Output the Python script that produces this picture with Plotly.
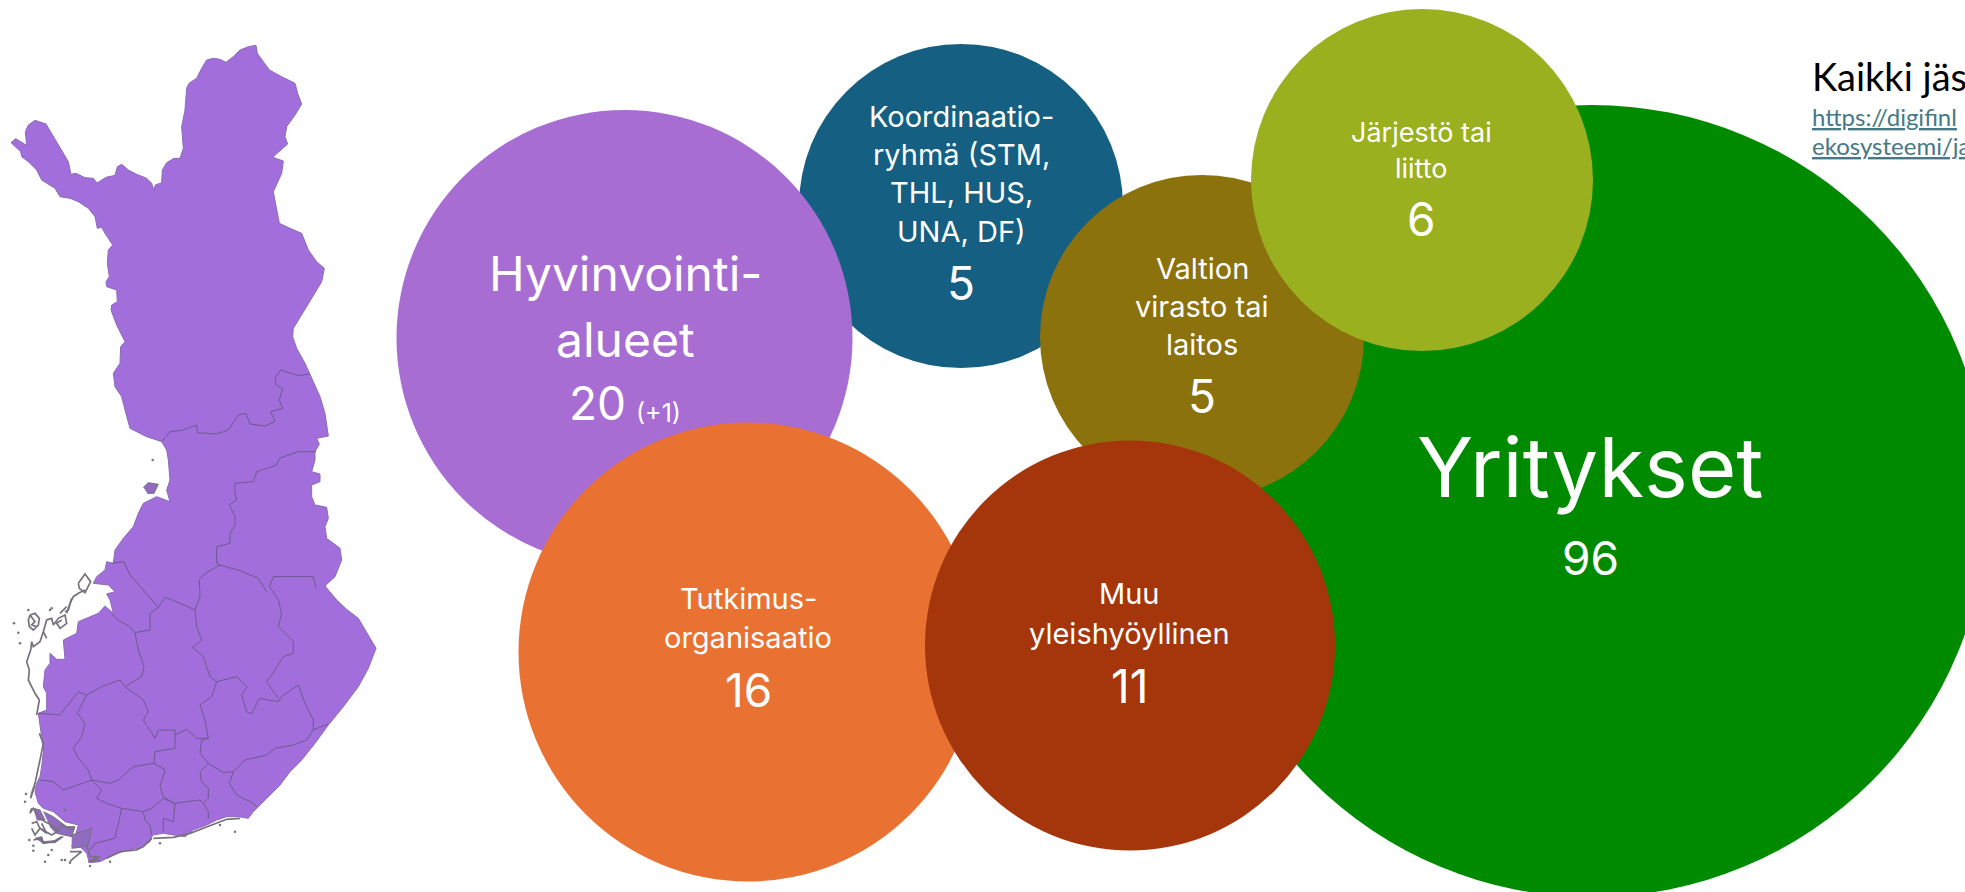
import plotly.graph_objects as go

# ---- data ----
categories = ["Yritykset", "Koordinaatioryhmä", "Hyvinvointialueet", "Valtion virasto tai laitos",
              "Järjestö tai liitto", "Tutkimusorganisaatio", "Muu yleishyöyllinen"]
member_counts = [96, 5, 20, 5, 6, 16, 11]
bubble_x = [1592, 961, 624.5, 1202, 1422, 748, 1130]
bubble_y = [501, 206, 338, 337, 180, 652, 645.5]
bubble_diameter = [792, 324, 456, 324, 342, 459, 410]
bubble_colors = ["#008A00", "#156082", "#A86DD3", "#8B720D", "#9BB01F", "#E97132", "#A5350A"]

# label lines: text, x, y, font size
label_text = ["Yritykset", "96",
              "Koordinaatio-", "ryhmä (STM,", "THL, HUS,", "UNA, DF)", "5",
              "Hyvinvointi-", "alueet", "20", "(+1)",
              "Valtion", "virasto tai", "laitos", "5",
              "Järjestö tai", "liitto", "6",
              "Tutkimus-", "organisaatio", "16",
              "Muu", "yleishyöyllinen", "11"]
label_x = [1590, 1590, 961, 961, 961, 961, 961, 625, 625, 597, 658, 1202, 1202, 1202, 1202,
           1421, 1421, 1421, 748, 748, 748, 1129, 1129, 1129]
label_y = [467, 558, 116, 154, 192, 231, 283, 273, 339, 403, 413, 268, 306, 344, 396,
           132, 168, 219, 598, 637, 690, 593, 633, 686]
label_size = [83, 46, 29, 29, 29, 29, 46, 48, 48, 46, 25, 29, 29, 29, 46, 27, 27, 46, 29, 29, 46, 29, 29, 46]

heading_text = "Kaikki jäs"
link_lines = ["https://digifinl", "ekosysteemi/ja"]

north_outline = [(33,368),(47,356),(80,376),(76,335),(85,315),(105,301),(138,312),(155,340),(185,390),(205,425),
    (213,463),(228,460),(255,473),(280,475),(291,489),(318,472),(345,466),(352,440),(365,433),(385,450),(410,463),
    (440,475),(455,490),(461,510),(466,495),(485,488),(487,450),(500,428),(522,415),(540,415),(550,385),(545,320),
    (555,270),(560,205),(567,190),(590,175),(605,145),(620,120),(640,115),(660,118),(678,127),(700,110),(720,90),
    (745,80),(768,76),(772,100),(790,125),(808,150),(845,170),(885,190),(893,220),(905,252),(885,285),(860,320),
    (855,350),(863,372),(840,392),(818,412),(850,423),(845,460),(820,515),(830,570),(838,610),(870,625),(905,640),
    (925,690),(950,725),(973,745),(965,785),(935,835),(905,885),(880,925),(878,950),(890,985),(915,1030),(935,1075),
    (960,1130),(975,1180),(985,1248),(950,1255),(958,1272),(945,1295),(945,1320)]
south_outline = [(945,30),(935,65),(960,72),(960,95),(935,105),(935,140),(945,165),(980,172),(985,205),(975,230),
    (980,265),(1020,295),(1025,330),(1005,380),(975,408),(1010,450),(1040,478),(1075,505),(1098,545),(1128,595),
    (1105,655),(1075,710),(1030,770),(985,825),(945,880),(905,930),(870,965),(840,1005),(800,1045),(760,1085),
    (745,1105),(715,1100),(680,1100),(650,1110),(620,1125),(580,1140),(555,1160),(520,1155),(490,1150),(458,1155),
    (450,1175),(420,1195),(380,1200),(340,1215),(300,1235),(268,1238),(260,1210),(240,1190),(215,1190),(225,1160),
    (235,1125),(195,1115),(160,1085),(130,1075),(115,1060),(105,1025),(110,1000),(120,980),(125,950),(130,905),
    (125,860),(115,790),(140,780),(140,730),(130,710),(135,660),(150,640),(150,610),(170,628),(195,628),(190,570),
    (230,550),(235,515),(295,490),(315,468),(340,490),(330,450),(320,432),(345,425),(325,405),(280,400),(290,380),
    (315,360),(320,335),(340,340),(345,300),(370,265),(400,230),(415,190),(430,160),(470,140),(510,155),(500,120),
    (510,90),(505,30),(500,0)]
west_outline = [(500,1290),(485,1265),(440,1250),(390,1225),(375,1170),(365,1130),(345,1100),(340,1060),(360,1030),
    (362,980),(375,965),(350,915),(333,870),(335,855),(352,845),(350,810),(320,800),(318,785),(328,770),(322,730),
    (325,690),(338,675),(315,640),(305,622),(292,625),(285,590),(265,565),(235,545),(210,535),(180,530),(165,505),
    (125,480),(110,450),(85,425),(65,410),(62,395),(33,368)]
north_border = [(485,1265),(510,1235),(550,1230),(590,1215),(592,1238),(650,1242),(685,1230),(715,1185),(738,1180),
    (750,1212),(795,1218),(825,1205),(812,1175),(848,1165),(838,1140),(848,1105),(828,1095),(825,1075),(842,1050),
    (895,1067),(930,1062)]
south_borders = [
    [(948,5),(895,5),(838,25),(830,45),(770,65),(760,95),(705,100),(705,130),(710,150),(688,165),(705,200),(705,225),
     (690,250),(690,280),(650,290),(650,340),(660,345)],
    [(800,425),(775,385),(720,362),(660,345),(615,370),(598,390),(600,440),(585,480)],
    [(475,472),(495,442),(540,460),(585,480),(590,530),(605,570),(578,592),(610,620),(630,680),(650,695),(710,680),
     (740,710),(725,735),(740,785),(755,792),(778,745),(835,755),(845,740),(895,705),(915,760),(940,810),(940,840),
     (920,870),(880,885),(825,895),(800,915),(735,930),(700,965),(670,968),(625,940),(600,965),(605,995),(625,1015),
     (625,1045),(610,1060),(625,1085),(625,1105)],
    [(808,410),(820,380),(940,380),(948,415)],
    [(808,410),(835,450),(845,490),(835,530),(880,575),(880,610),(850,620),(825,660),(800,695),(835,745)],
    [(335,340),(372,335),(390,375),(430,420),(475,472),(450,490),(450,540),(405,548),(390,530),(350,508),(335,490)],
    [(405,548),(415,600),(432,650),(425,680),(375,710),(360,690),(305,710),(260,735),(235,725),(180,795),(115,790)],
    [(375,710),(430,750),(445,785),(430,810),(465,865),(475,840),(525,840),(525,895),(465,905),(462,940),(495,960),
     (480,1010),(490,1040),(520,1060)],
    [(525,855),(560,838),(590,865),(625,865),(605,870),(600,910),(625,940)],
    [(650,695),(635,740),(600,765),(615,810),(625,865)],
    [(260,735),(232,790),(255,820),(245,860),(220,895),(235,925),(265,960),(275,990),(330,1000),(355,990),(400,950),(462,940)],
    [(120,990),(160,995),(190,1020),(250,1000),(275,990),(305,1020),(290,1045),(320,1060),(365,1075),(430,1085),
     (455,1075),(490,1045),(525,1060),(600,1050),(610,1060)],
    [(365,1075),(355,1120),(345,1165),(285,1180),(270,1200)],
    [(430,1085),(435,1110),(450,1125),(455,1155)],
    [(525,1060),(520,1115),(490,1105),(490,1145)],
    [(700,965),(688,1000),(710,1035),(760,1060),(770,1070)],
    [(940,840),(985,822)],
]
island_filled = [
    [(430,112),(445,98),(475,103),(462,130),(442,130)],
    [(100,1075),(120,1080),(135,1110),(110,1110)],
    [(130,1085),(160,1100),(200,1130),(225,1130),(215,1160),(170,1150),(150,1130)],
    [(105,1165),(125,1160),(130,1175),(165,1172),(190,1160),(165,1178),(125,1178)],
    [(215,1155),(260,1140),(275,1135),(265,1185),(240,1192),(215,1195)],
]
island_scribbles = [
    [(90,495),(105,490),(118,505),(115,525),(100,540),(88,530),(85,510),(90,495),(105,515),(95,525),(110,530)],
    [(130,545),(140,510),(155,505),(160,525),(175,505),(195,495),(200,520),(180,535),(170,520),(185,510)],
    [(200,490),(210,460),(220,440),(235,430),(255,420)],
    [(180,490),(200,470)],
    [(215,445),(205,480),(195,485)],
    [(235,400),(255,372),(272,395),(255,428),(238,415),(235,400)],
    [(140,565),(130,545),(120,575),(100,590),(95,575),(92,600),(80,635),(88,660),(85,690),(95,710),(105,730),(118,750),(110,795)],
    [(118,850),(130,880),(122,920),(112,965),(105,1000),(95,1030),(92,1045),(105,1005)],
    [(95,1075),(90,1090),(100,1075),(115,1100),(135,1115),(155,1125),(170,1140),(185,1125),(220,1140)],
    [(95,1120),(110,1115),(120,1135),(105,1155),(95,1135)],
    [(125,1120),(140,1150),(120,1135),(155,1155),(180,1140)],
    [(100,1170),(125,1165),(130,1180),(160,1175),(185,1160)],
    [(210,1205),(225,1205),(245,1205),(220,1225),(210,1235)],
    [(260,1185),(270,1220),(300,1220),(265,1235),(300,1230)],
    [(320,1225),(360,1205),(410,1200),(430,1190),(455,1165)],
    [(460,1165),(520,1162),(570,1150),(620,1130),(680,1108),(720,1105)],
]
island_dots = [(85,480),(150,480),(155,475),(55,548),(60,580),(42,520),(78,1032),(75,1055),(88,1170),(100,1187),
    (100,1202),(135,1235),(145,1215),(155,1200),(185,1230),(195,1230),(210,1238),(270,1248),(330,1235),
    (195,1080),(480,1180),(705,1145),(660,1125),(458,30)]
fill_color = "#A26EDC"
border_color = "#6E5A8C"
island_color = "#77707F"


def north_xy(points):
    return [p[0] / 3 for p in points], [20 + p[1] / 3 for p in points]


def south_xy(points):
    return [p[0] / 3 for p in points], [450 + p[1] / 3 for p in points]


def join_paths(paths, conv):
    xs, ys = [], []
    for path in paths:
        px, py = conv(path)
        xs += px + [None]
        ys += py + [None]
    return xs, ys


fig = go.Figure()

nx, ny = north_xy(north_outline)
sx, sy = south_xy(south_outline)
wx, wy = north_xy(west_outline)
fig.add_trace(go.Scatter(x=nx + sx + wx, y=ny + sy + wy, mode="lines", fill="toself", fillcolor=fill_color,
                         line=dict(color="#8A6BB5", width=1), hoverinfo="skip"))
ix, iy = join_paths(island_filled, south_xy)
fig.add_trace(go.Scatter(x=ix, y=iy, mode="lines", fill="toself", fillcolor="#8F6CC0",
                         line=dict(color=island_color, width=1), hoverinfo="skip"))
ix, iy = join_paths(island_scribbles, south_xy)
fig.add_trace(go.Scatter(x=ix, y=iy, mode="lines", line=dict(color=island_color, width=1.7), hoverinfo="skip"))
dx, dy = south_xy(island_dots)
fig.add_trace(go.Scatter(x=dx, y=dy, mode="markers", marker=dict(color=island_color, size=2.5), hoverinfo="skip"))
bx, by = join_paths(south_borders, south_xy)
cx, cy = north_xy(north_border)
fig.add_trace(go.Scatter(x=cx + [None] + bx, y=cy + [None] + by, mode="lines",
                         line=dict(color=border_color, width=1), hoverinfo="skip"))

for name, count, x, y, d, c in zip(categories, member_counts, bubble_x, bubble_y, bubble_diameter, bubble_colors):
    fig.add_trace(go.Scatter(x=[x], y=[y], mode="markers", name=name, customdata=[count],
                             marker=dict(size=d, sizemode="diameter", color=c, opacity=1, line=dict(width=0)),
                             hovertemplate=name + ": %{customdata}<extra></extra>"))

annotations = []
for t, x, y, s in zip(label_text, label_x, label_y, label_size):
    annotations.append(dict(text=t, x=x, y=y, xref="x", yref="y", showarrow=False, xanchor="center", yanchor="middle",
                            font=dict(family="Inter", size=s, color="#FFFFFF")))
annotations.append(dict(text=heading_text, x=1810, y=76, xref="x", yref="y", showarrow=False, xanchor="left",
                        yanchor="middle", font=dict(family="Lato", size=38, color="#000000")))
for t, y in zip(link_lines, [116, 145]):
    annotations.append(dict(text=t, x=1810, y=y, xref="x", yref="y", showarrow=False, xanchor="left",
                            yanchor="middle", font=dict(family="Lato", size=24, color="#467886", lineposition="under")))

fig.update_layout(
    width=1965, height=892, margin=dict(l=0, r=0, t=0, b=0), showlegend=False,
    paper_bgcolor="#FFFFFF", plot_bgcolor="#FFFFFF", annotations=annotations,
    xaxis=dict(range=[0, 1965], visible=False, fixedrange=True),
    yaxis=dict(range=[892, 0], visible=False, fixedrange=True),
)
fig.write_html("out.html", config=dict(displayModeBar=False),
               post_script="document.body.style.margin='0';document.body.style.overflow='hidden';")
